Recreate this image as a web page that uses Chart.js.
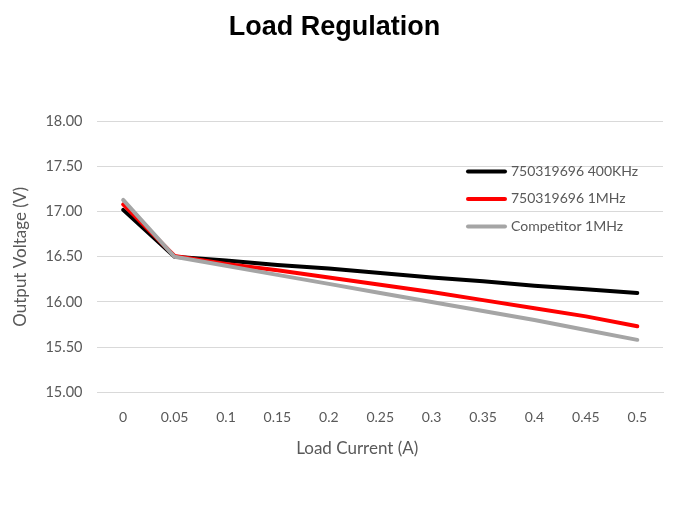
<!DOCTYPE html>
<html>
<head>
<meta charset="utf-8">
<script src="https://cdn.jsdelivr.net/npm/chart.js@4.4.0/dist/chart.umd.min.js"></script>
<style>
  html, body { margin: 0; padding: 0; background: #fff; }
  #wrap { width: 675px; height: 506px; }
</style>
</head>
<body>
<div id="wrap"><canvas id="load_chart" width="675" height="506"></canvas></div>
<script>
const currents = ["0", "0.05", "0.1", "0.15", "0.2", "0.25", "0.3", "0.35", "0.4", "0.45", "0.5"];
const v400k = [17.02, 16.50, 16.46, 16.41, 16.37, 16.32, 16.27, 16.23, 16.18, 16.14, 16.10];
const v1m = [17.08, 16.51, 16.42, 16.35, 16.27, 16.19, 16.11, 16.02, 15.93, 15.84, 15.73];
const vCompetitor = [17.13, 16.50, 16.40, 16.30, 16.20, 16.10, 16.00, 15.90, 15.80, 15.69, 15.58];
const seriesNames = ["750319696 400KHz", "750319696 1MHz", "Competitor 1MHz"];
const seriesColors = ["#000000", "#ff0000", "#a5a5a5"];
const xTitle = "Load Current (A)";

const axisFont = "Lato, 'Liberation Sans', sans-serif";

// legend sits inside the plot, top right, like the excel one
const insideLegend = {
  id: "insideLegend",
  afterDraw(chart) {
    const ctx = chart.ctx;
    const area = chart.chartArea;
    const x0 = area.right - 195;
    let y = area.top + 50;
    ctx.save();
    ctx.font = "14px " + axisFont;
    ctx.textBaseline = "middle";
    chart.data.datasets.forEach((ds) => {
      ctx.strokeStyle = ds.borderColor;
      ctx.lineWidth = 4;
      ctx.lineCap = "round";
      ctx.beginPath();
      ctx.moveTo(x0, y);
      ctx.lineTo(x0 + 37, y);
      ctx.stroke();
      ctx.fillStyle = "#595959";
      ctx.fillText(ds.label, x0 + 43, y);
      y += 27.5;
    });

    // x axis title, excel centres it a bit left of the plot centre
    ctx.font = "17px " + axisFont;
    ctx.textAlign = "center";
    ctx.fillStyle = "#595959";
    ctx.fillText(xTitle, (area.left + area.right) / 2 - 23, area.bottom + 56);
    ctx.restore();
  },
};

const makeSet = (i, values, order) => ({
  label: seriesNames[i],
  data: values,
  borderColor: seriesColors[i],
  backgroundColor: seriesColors[i],
  borderWidth: 4,
  pointRadius: 0,
  tension: 0,
  borderCapStyle: "round",
  borderJoinStyle: "round",
  order: order,
});

const config = {
  type: "line",
  data: {
    labels: currents,
    datasets: [makeSet(0, v400k, 3), makeSet(1, v1m, 2), makeSet(2, vCompetitor, 1)],
  },
  options: {
    responsive: false,
    animation: false,
    layout: { padding: { left: 6, right: 12, top: 0, bottom: 63 } },
    plugins: {
      legend: { display: false },
      tooltip: { enabled: false },
      title: {
        display: true,
        text: "Load Regulation",
        color: "#000",
        font: { family: "'Liberation Sans', Arial, sans-serif", size: 27, weight: "bold" },
        padding: { top: 11, bottom: 78 },
      },
    },
    scales: {
      x: {
        offset: true,
        grid: { display: false, drawTicks: false },
        border: { color: "#d9d9d9", width: 1 },
        ticks: {
          color: "#595959",
          padding: 17,
          maxRotation: 0,
          font: { family: axisFont, size: 14 },
        },
      },
      y: {
        min: 15,
        max: 18,
        grid: { color: "#d9d9d9", drawTicks: false },
        border: { display: false },
        ticks: {
          stepSize: 0.5,
          color: "#595959",
          padding: 15,
          callback: (v) => v.toFixed(2),
          font: { family: axisFont, size: 14.5 },
        },
        title: {
          display: true,
          text: "Output Voltage (V)",
          color: "#595959",
          padding: { bottom: 0 },
          font: { family: axisFont, size: 17 },
        },
      },
    },
  },
  plugins: [insideLegend],
};

const loadChart = new Chart(document.getElementById("load_chart"), config);
</script>
</body>
</html>
